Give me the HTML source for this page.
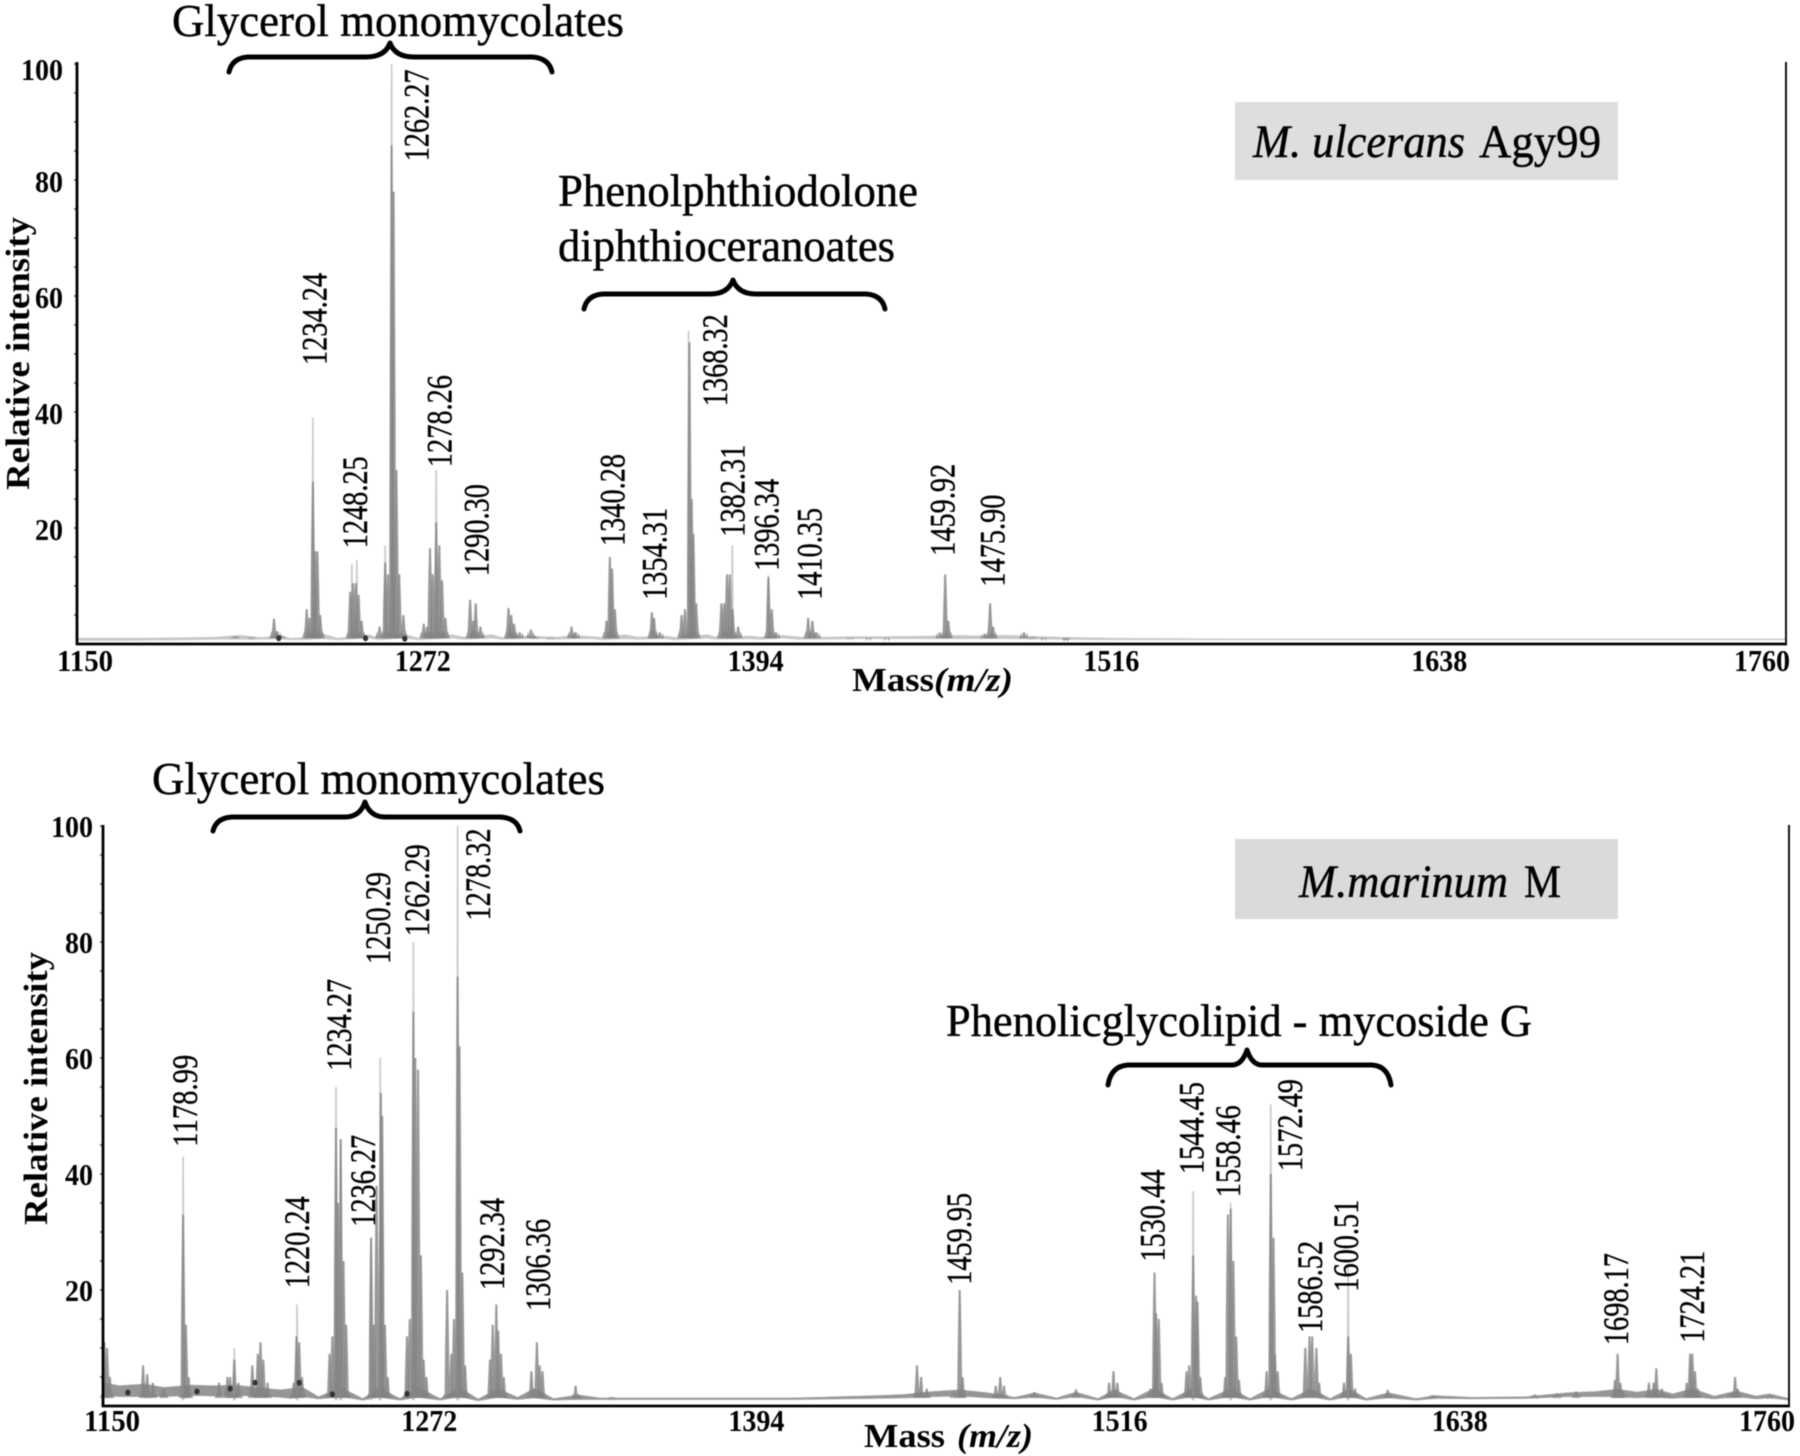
<!DOCTYPE html>
<html lang="en">
<head>
<meta charset="utf-8">
<title>MALDI mass spectra of M. ulcerans Agy99 and M. marinum M</title>
<style>
html,body{margin:0;padding:0;background:#fff;}
svg{display:block;filter:blur(0.55px);}
text{font-family:"Liberation Serif",serif;fill:#000;}
.tick{font-weight:bold;font-size:31px;}
.axis-title{font-weight:bold;font-size:34px;}
.peak-label{font-size:36px;stroke:#000;stroke-width:0.35px;}
.group-label{font-size:46px;stroke:#000;stroke-width:0.45px;}
.strain{font-size:47px;stroke:#000;stroke-width:0.45px;}
.brace{fill:none;stroke:#000;stroke-width:5;stroke-linecap:round;stroke-linejoin:round;}
</style>
</head>
<body>
<svg id="chart" xmlns="http://www.w3.org/2000/svg" width="1800" height="1456" viewBox="0 0 1800 1456">
  <rect x="-5" y="-5" width="1810" height="1466" fill="#fff"/>
  <g id="panelA"></g>
  <g id="panelB"></g>

  <rect x="1235" y="102" width="383" height="78" fill="#dedede"/>
  <text class="strain" x="1253" y="157" font-style="italic" textLength="212" lengthAdjust="spacingAndGlyphs">M. ulcerans</text>
  <text class="strain" x="1479" y="157" textLength="122" lengthAdjust="spacingAndGlyphs">Agy99</text>

  <rect x="1235" y="839" width="383" height="80" fill="#dadada"/>
  <text class="strain" x="1299" y="897" font-style="italic" textLength="209" lengthAdjust="spacingAndGlyphs">M.marinum</text>
  <text class="strain" x="1524" y="897" textLength="37" lengthAdjust="spacingAndGlyphs">M</text>

  <text class="group-label" x="172" y="36" textLength="452" lengthAdjust="spacingAndGlyphs">Glycerol monomycolates</text>
  <path class="brace" d="M229 72 Q232 58 248 57 H366 Q385 57 390 43 Q395 57 414 57 H532 Q549 58 552 72"/>
  <text class="group-label" x="558" y="206" textLength="360" lengthAdjust="spacingAndGlyphs">Phenolphthiodolone</text>
  <text class="group-label" x="558" y="261" textLength="337" lengthAdjust="spacingAndGlyphs">diphthioceranoates</text>
  <path class="brace" d="M584 309 Q587 295 603 294 H710 Q728 294 733 280 Q738 294 756 294 H866 Q882 295 885 309"/>

  <text class="group-label" x="152" y="794" textLength="453" lengthAdjust="spacingAndGlyphs">Glycerol monomycolates</text>
  <path class="brace" d="M213 831 Q216 818 232 817 H345 Q360 817 365 802 Q370 817 385 817 H500 Q517 818 520 831"/>
  <text class="group-label" x="946" y="1036" textLength="586" lengthAdjust="spacingAndGlyphs">Phenolicglycolipid - mycoside G</text>
  <path class="brace" d="M1108 1085 Q1111 1066 1128 1065 H1232 Q1242 1065 1247 1050 Q1252 1065 1262 1065 H1372 Q1388 1066 1391 1085"/>
</svg>
<script>
// ---------- Shared axis values ----------
const xTickValues = [1150, 1272, 1394, 1516, 1638, 1760];
const yTickValues = [20, 40, 60, 80, 100];

// ---------- Panel A: M. ulcerans Agy99 ----------
const spireMassA  = [1234.2, 1248.1, 1249.9, 1260, 1262.3, 1278.2, 1368.3, 1383.9, 1396.8];
const spireLevelA = [39, 13.8, 14.5, 17, 100, 30, 54, 17, 11.8];

const bodyMassA = [1206.5,1212.3,1220.3,1221.5,1223,
  1232,1233,1234.2,1235,1235.8,1236.8,
  1247.5,1248.5,1249.5,1250.5,1251.6,
  1258,1260,1261,1262.3,1263,1264,1265,1266.5,
  1273.8,1275,1276,1277,1278.2,1279.3,1280.3,1281.5,
  1290.3,1291.5,1292.3,1294,
  1304,1305,1306,1308,
  1312,1313.5,1319,
  1326.5,1328,
  1339,1340.2,1341,1342,
  1355.2,1356,1358,
  1365.8,1367,1368.6,1369.4,1370,1371,
  1380,1381,1382,1383,1384,1386,
  1396.8,1398,1399.5,
  1411,1412.5,1414,
  1426,1432.5,1439,
  1458,1459.9,1461,
  1474,1475.9,1477,
  1488,1491,1495,1503];
const bodyLevelA = [1.4,1.2,4.4,2.2,1.5,
  6,4.5,28,16,16,5,
  9,10.5,10.5,8.5,4,
  3,14,12,86,78,30,12,5,
  3.5,3,16.5,12,21,17,11,4.5,
  7.6,4,7,3,
  6.2,5,3.5,2,
  2.5,1.4,1.1,
  3,2,
  4,15,13,6,
  5.5,4.5,2,
  5,6,52,25,19,7,
  7,7,12,12,6,3,
  11.5,6,2,
  4.5,4,2,
  1.1,0.9,0.9,
  2,12,4,
  1.8,7,3,
  2,1.2,0.9,0.7];

const coreMassA  = [1222, 1253, 1267];
const coreLevelA = [1.5, 1.5, 1.4];

const bandMassA  = [1150,1170,1190,1200,1208,1216,1222,1226,1230,1238,1243,1254,1258,1266,1272,1284,1288,1298,1302,1310,1316,1322,1326,1334,1338,1346,1350,1360,1364,1375,1378,1390,1394,1402,1408,1418,1428,1440,1455,1466,1470,1482,1500,1520,1560,1640,1700,1760];
const bandLowerA = [0.6,0.6,0.7,0.8,0.8,0.8,0.9,0.7,0.7,0.9,0.7,1.0,0.7,1.0,0.7,1.0,0.8,1.0,0.8,0.9,0.9,0.8,0.9,0.9,0.7,0.9,0.8,0.9,0.7,1.0,0.8,0.9,0.8,1.0,0.8,0.8,0.9,0.9,0.9,0.9,0.9,0.9,0.8,0.7,0.7,0.7,0.7,0.7];
const bandUpperA = [1.0,1.0,1.1,1.2,1.5,1.1,1.5,1.0,1.1,1.7,1.0,1.6,1.0,1.8,1.0,1.6,1.2,1.6,1.1,1.4,1.3,1.2,1.5,1.3,1.1,1.6,1.2,1.4,1.1,1.6,1.2,1.4,1.2,1.5,1.2,1.2,1.3,1.3,1.4,1.5,1.4,1.5,1.2,1.0,0.9,0.9,0.9,0.9];

const labelTextA    = ["1234.24","1248.25","1262.27","1278.26","1290.30","1340.28","1354.31","1368.32","1382.31","1396.34","1410.35","1459.92","1475.90"];
const labelAtMassA  = [1234.8,1249.2,1271.1,1279.3,1292.6,1341.1,1356.1,1377.7,1383.9,1396.1,1411.4,1458.9,1476.8];
const labelAtLevelA = [48.1,16.5,83.2,30.5,11.7,16.9,7.6,41,18.5,12.6,7.6,15.2,9.9];

// ---------- Panel B: M. marinum M ----------
const spireMassB  = [1178.99,1197.5,1220.2,1234.3,1236,1247,1250.3,1262.3,1278.3,1544.4,1558,1572.5,1600.5];
const spireLevelB = [43,10,17.5,55,46,29,60,80,100,37,35,52,24];

const bodyMassB = [1150.5,1151.5,1152.5,1164.5,1166,1168,1172,
  1178.99,1180,1181,
  1192,1195,1196,1197.5,1199,
  1204,1206,1207,1208,1209.5,
  1219,1220,1221,1222,
  1232,1233,1234.3,1235,1236,1237,1238,
  1247,1248,1249,1250.5,1251,1252,1253,
  1260,1261,1262.3,1263,1264,1265,1266,1267,
  1274.5,1276,1277,1278.3,1279,1280,1281,
  1290,1291,1292.3,1293,1294,1295,
  1305,1307,1308,1309,
  1321,1322,1334,
  1444.5,1446,1448,
  1458,1459.95,1461,
  1473,1474.6,1476,
  1487,1502,
  1514,1515.6,1517,
  1529,1530.44,1531,1532,1533,
  1542,1543,1544.45,1545.5,1546,1547,
  1556,1557,1558,1559,1560,1561,
  1571,1572.5,1573.5,1574,1575,
  1585,1586.5,1587.5,1589,1590,
  1599,1600.5,1601.5,1603,
  1614.8,1631,
  1668,1676,1683,
  1697,1698,1699,1700,
  1709.3,1711,1712,1714,1716,
  1723,1724.2,1725,1726,1727,
  1739,1740.5,1741.5,1753];
const bodyLevelB = [11,10,5,7,5.5,4,3,
  33,14,5,
  4,5,5,8,4,
  7,9,11,8,4,
  4,12,11,5,
  9,12,48,35,46,25,14,
  29,14,38,54,50,14,5,
  12,15,68,60,58,26,8,5,
  20,9,15,74,62,23,7,
  8,14,17.5,13,9,5,
  6,11,7,6,
  3.5,2,1.6,
  7,5,3,
  2.5,20,5,
  3.5,5,3.5,
  2.4,2.9,
  4,6,4,
  3,23,16,15,4,
  6,7,26,19,18,5,
  5,33,34,25,12,4.5,
  6,40,29,9,6,
  10,12,12,10,4,
  4,12,9,3,
  2.8,1.9,
  2,2.2,2.5,
  4.5,9,4,2.5,
  4,4,6.5,3,2,
  4,9,9,6,3,
  2.2,5,3,1.8];

const coreMassB  = [1159,1184,1196,1205,1221,1233,1260];
const coreLevelB = [2.8,3,3.5,4.5,4.5,2.5,2.6];

const bandMassB  = [1150,1156,1165,1172,1182,1190,1198,1204,1214,1218,1222,1228,1236,1244,1250,1257.5,1264,1272,1279,1285.7,1293,1300,1306,1313,1322,1330,1360,1400,1430,1440,1450,1460,1470,1480,1487,1495,1502,1510,1516,1523,1530,1537,1544,1550,1558,1565,1572,1580,1587,1594,1601,1607,1615,1625,1632,1645,1665,1680,1690,1698,1705,1712,1718,1725,1733,1741,1748,1753,1760];
const bandLowerB = [1.8,1.6,1.6,1.6,1.8,1.7,1.8,1.7,1.5,1.3,1.6,1.2,1.6,1.0,1.5,1.0,1.5,1.0,1.6,0.9,1.5,1.1,1.4,1.0,1.1,1.1,1.1,1.1,1.3,1.4,1.6,1.7,1.4,1.2,1.5,1.1,1.6,1.0,1.6,1.0,1.6,1.0,1.6,1.0,1.6,1.0,1.6,1.0,1.6,1.0,1.6,1.0,1.4,1.0,1.3,1.2,1.3,1.6,1.6,1.6,1.4,1.6,1.3,1.6,1.2,1.6,1.2,1.4,1.0];
const bandUpperB = [4,3.5,3.8,3.2,3.6,3.5,3.6,3.3,2.8,3,3.3,1.6,3.2,1.3,3.1,1.3,3.2,1.3,3.2,1.2,3,1.5,3,1.3,1.9,1.4,1.4,1.4,1.8,2.0,2.5,2.8,2.3,1.5,2.3,1.4,2.4,1.3,2.8,1.3,3,1.3,3,1.3,3,1.3,3,1.3,3,1.3,3,1.3,2.3,1.3,1.8,1.5,1.6,2.3,2.5,2.9,2.4,2.9,2.1,3,1.7,2.6,1.7,2.1,1.3];

const labelTextB    = ["1178.99","1220.24","1234.27","1236.27","1250.29","1262.29","1278.32","1292.34","1306.36","1459.95","1530.44","1544.45","1558.46","1572.49","1586.52","1600.51","1698.17","1724.21"];
const labelAtMassB  = [1179.7,1220.2,1235.4,1244.1,1249.5,1263.6,1285.7,1290.7,1307.4,1459.7,1529.7,1543.9,1557,1579.5,1586.7,1599.7,1697.4,1724.9];
const labelAtLevelB = [44.7,20.3,57.8,30.9,76.2,81,83.7,20,16.4,20.9,24.9,40,36,40.5,12.6,19.7,10.5,10.9];

// ---------- Rendering ----------
const SVG_NS = "http://www.w3.org/2000/svg";

function make(tag, parent, attrs, text) {
  const el = document.createElementNS(SVG_NS, tag);
  for (const k in attrs) el.setAttribute(k, attrs[k]);
  if (text !== undefined) el.textContent = text;
  parent.appendChild(el);
  return el;
}

function drawPanel(p) {
  const g = document.getElementById(p.id);
  const x = m => p.left + (m - 1150) * (p.right - p.left) / (1760 - 1150);
  const y = v => p.bottom - v * p.unit;

  // noise band along the baseline
  const up = p.bandMass.map((m, i) => x(m).toFixed(1) + "," + y(p.bandUpper[i]).toFixed(1));
  const lo = p.bandMass.map((m, i) => x(m).toFixed(1) + "," + y(p.bandLower[i]).toFixed(1)).reverse();
  const band = make("polygon", g, {points: up.concat(lo).join(" "), fill: p.bandFill, stroke: p.bandStroke, "stroke-width": 0.6});
  
  

  // thin pale tips of the peaks
  p.spireMass.forEach((m, i) => {
    const cx = x(m), top = y(p.spireLevel[i]), base = y(1);
    const el = make("polygon", g, {points: [cx-0.8,top, cx+0.8,top, cx+1.5,base, cx-1.5,base].join(" "), fill: "#c8c8c8"});
    
    
  });

  // peak bodies
  p.bodyMass.forEach((m, i) => {
    const h = p.bodyLevel[i], cx = x(m), top = y(h), mid = y(h * 0.5), foot = y(Math.min(h, 2.2)), base = y(p.footLevel);
    const pts = [cx-1,top, cx+1,top, cx+2,mid, cx+2.5,foot, cx+4.5,base, cx-4.5,base, cx-2.5,foot, cx-2,mid];
    const el = make("polygon", g, {points: pts.map(n => n.toFixed(1)).join(" "), fill: "#828282", "fill-opacity": 0.82});
    
    
  });

  // dark overlaps near the foot of clusters
  p.coreMass.forEach((m, i) => {
    const el = make("ellipse", g, {cx: x(m), cy: y(p.coreLevel[i] - 0.5), rx: 2.6, ry: 3, fill: "#333"});
    
    
  });

  // minor marks on the y axis
  for (let v = 5; v <= 100; v += 5) {
    const el = make("line", g, {x1: p.left - 3, x2: p.left, y1: y(v), y2: y(v), stroke: "#777", "stroke-width": 2});
    
    
  }

  // axes
  const yAxis = make("line", g, {x1: p.left, x2: p.left, y1: p.top, y2: p.bottom + 1, stroke: "#000", "stroke-width": 2.8});
  
  
  const xAxis = make("line", g, {x1: p.left - 1, x2: p.right + 1, y1: p.bottom, y2: p.bottom, stroke: "#000", "stroke-width": 2.8});
  
  
  const rAxis = make("line", g, {x1: p.right, x2: p.right, y1: p.top, y2: p.bottom, stroke: "#111", "stroke-width": 2});
  
  

  // tick labels
  xTickValues.forEach(t => {
    const s = String(t);
    const el = make("text", g, {class: "tick", x: x(t) + p.xLabelNudge[t], y: p.xLabelY, "text-anchor": "middle", textLength: 56, lengthAdjust: "spacingAndGlyphs"}, s);
    
    
  });
  yTickValues.forEach(t => {
    const s = String(t);
    const el = make("text", g, {class: "tick", x: p.yLabelRight, y: y(t) + p.yLabelDrop + (t === 100 ? p.topLabelShift : 0), "text-anchor": "end", textLength: s.length * 14, lengthAdjust: "spacingAndGlyphs"}, s);
    
    
  });

  // peak labels
  p.labelText.forEach((s, i) => {
    const lx = x(p.labelAtMass[i]) + 12, ly = y(p.labelAtLevel[i]);
    const el = make("text", g, {class: "peak-label", transform: "translate(" + lx.toFixed(1) + " " + ly.toFixed(1) + ") rotate(-90)", textLength: 92, lengthAdjust: "spacingAndGlyphs"}, s);
    
    
  });

  // axis titles
  const yt = make("text", g, {class: "axis-title", transform: "translate(" + p.yTitleX + " " + p.yTitleBottom + ") rotate(-90)", textLength: 273, lengthAdjust: "spacingAndGlyphs"}, "Relative intensity");
  
  
  const xt = make("text", g, {class: "axis-title", x: p.massX, y: p.massY, textLength: p.massLen, lengthAdjust: "spacingAndGlyphs"}, "Mass");
  
  
  const xu = make("text", g, {class: "axis-title", x: p.unitX, y: p.massY, textLength: p.unitLen, lengthAdjust: "spacingAndGlyphs", "font-style": "italic"}, "(m/z)");
  
  
}

drawPanel({
  id: "panelA", left: 77, right: 1786, top: 62, bottom: 644, unit: 5.8, footLevel: 1,
  spireMass: spireMassA, spireLevel: spireLevelA, bodyMass: bodyMassA, bodyLevel: bodyLevelA,
  coreMass: coreMassA, coreLevel: coreLevelA,
  bandMass: bandMassA, bandLower: bandLowerA, bandUpper: bandUpperA, bandFill: "#c6c6c6", bandStroke: "#cfcfcf",
  labelText: labelTextA, labelAtMass: labelAtMassA, labelAtLevel: labelAtLevelA,
  xLabelNudge: {1150: 8, 1272: 4, 1394: -5, 1516: 9, 1638: -5, 1760: -24}, xLabelY: 671,
  yLabelRight: 63, yLabelDrop: 12, topLabelShift: 4,
  yTitleX: 29, yTitleBottom: 490, massX: 852, massY: 691, massLen: 82, unitX: 934, unitLen: 79
});
drawPanel({
  id: "panelB", left: 103, right: 1789, top: 825, bottom: 1406, unit: 5.8, footLevel: 1.4,
  spireMass: spireMassB, spireLevel: spireLevelB, bodyMass: bodyMassB, bodyLevel: bodyLevelB,
  coreMass: coreMassB, coreLevel: coreLevelB,
  bandMass: bandMassB, bandLower: bandLowerB, bandUpper: bandUpperB, bandFill: "#969696", bandStroke: "#a8a8a8",
  labelText: labelTextB, labelAtMass: labelAtMassB, labelAtLevel: labelAtLevelB,
  xLabelNudge: {1150: 9, 1272: -11, 1394: -21, 1516: 5, 1638: 8, 1760: -22}, xLabelY: 1431,
  yLabelRight: 93, yLabelDrop: 11, topLabelShift: 0,
  yTitleX: 47, yTitleBottom: 1225, massX: 864, massY: 1447, massLen: 81, unitX: 957, unitLen: 76
});
</script>
</body>
</html>
